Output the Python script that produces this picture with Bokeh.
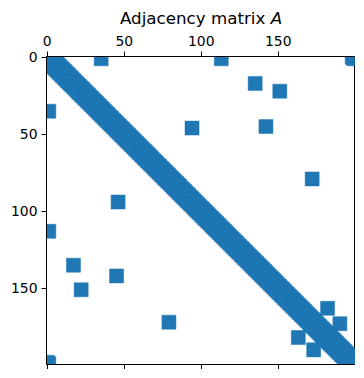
import numpy as np
from bokeh.plotting import figure
from bokeh.models import Range1d, LinearAxis, FixedTicker, ColumnDataSource, Div
from bokeh.layouts import column
from bokeh.embed import file_html
from bokeh.resources import INLINE

# ---- data ----
n_nodes = 200
ring_k = 2  # neighbours on each side in the ring lattice
extra_u = [1, 1, 17, 22, 45, 46, 79, 163, 173]
extra_v = [35, 113, 135, 151, 142, 94, 172, 182, 190]
tick_values = [0, 50, 100, 150]
title_main = "Adjacency matrix"
title_sym = "A"

A = np.zeros((n_nodes, n_nodes), dtype=int)
for i in range(n_nodes):
    for d in range(1, ring_k + 1):
        j = (i + d) % n_nodes
        A[i, j] = A[j, i] = 1
for u, v in zip(extra_u, extra_v):
    A[u, v] = A[v, u] = 1
rows, cols = np.nonzero(A)
src = ColumnDataSource(dict(x=cols, y=rows))

FONT = "DejaVu Sans"
p = figure(frame_width=308, frame_height=308,
           x_range=Range1d(-0.5, n_nodes - 0.5),
           y_range=Range1d(n_nodes - 0.5, -0.5),
           x_axis_location="above",
           output_backend="svg", toolbar_location=None,
           min_border_left=46, min_border_top=28,
           min_border_right=4, min_border_bottom=0)
p.grid.visible = False
p.outline_line_color = "black"
p.outline_line_width = 1
p.background_fill_color = "white"

p.rect(x="x", y="y", width=9.1, height=9.1, source=src,
       fill_color="#1f77b4", line_color="#1f77b4", line_width=0.5)

def style(ax, labels=True, standoff=4):
    ax.ticker = FixedTicker(ticks=tick_values)
    ax.minor_tick_line_color = None
    ax.major_tick_out = 5
    ax.major_tick_in = 0
    ax.axis_line_color = "black"
    ax.major_tick_line_color = "black"
    ax.major_label_text_color = "black"
    ax.major_label_text_font = FONT
    ax.major_label_text_font_size = "13.9px" if labels else "1px"
    ax.major_label_standoff = standoff if labels else 0
    if not labels:
        ax.major_label_overrides = {t: "" for t in tick_values}

style(p.xaxis[0], standoff=6)
style(p.yaxis[0], standoff=4)
bx = LinearAxis()
style(bx, labels=False)
p.add_layout(bx, "below")

title = Div(text=f"{title_main} <i>{title_sym}</i>", width=348, height=28,
            margin=(0, 0, 0, 0),
            styles={"font-family": FONT, "font-size": "16.7px", "color": "black",
                    "padding-left": "120px", "padding-top": "7px",
                    "box-sizing": "border-box", "white-space": "nowrap"})

layout = column(title, p, spacing=0)
open("out.html", "w").write(file_html(layout, INLINE))
